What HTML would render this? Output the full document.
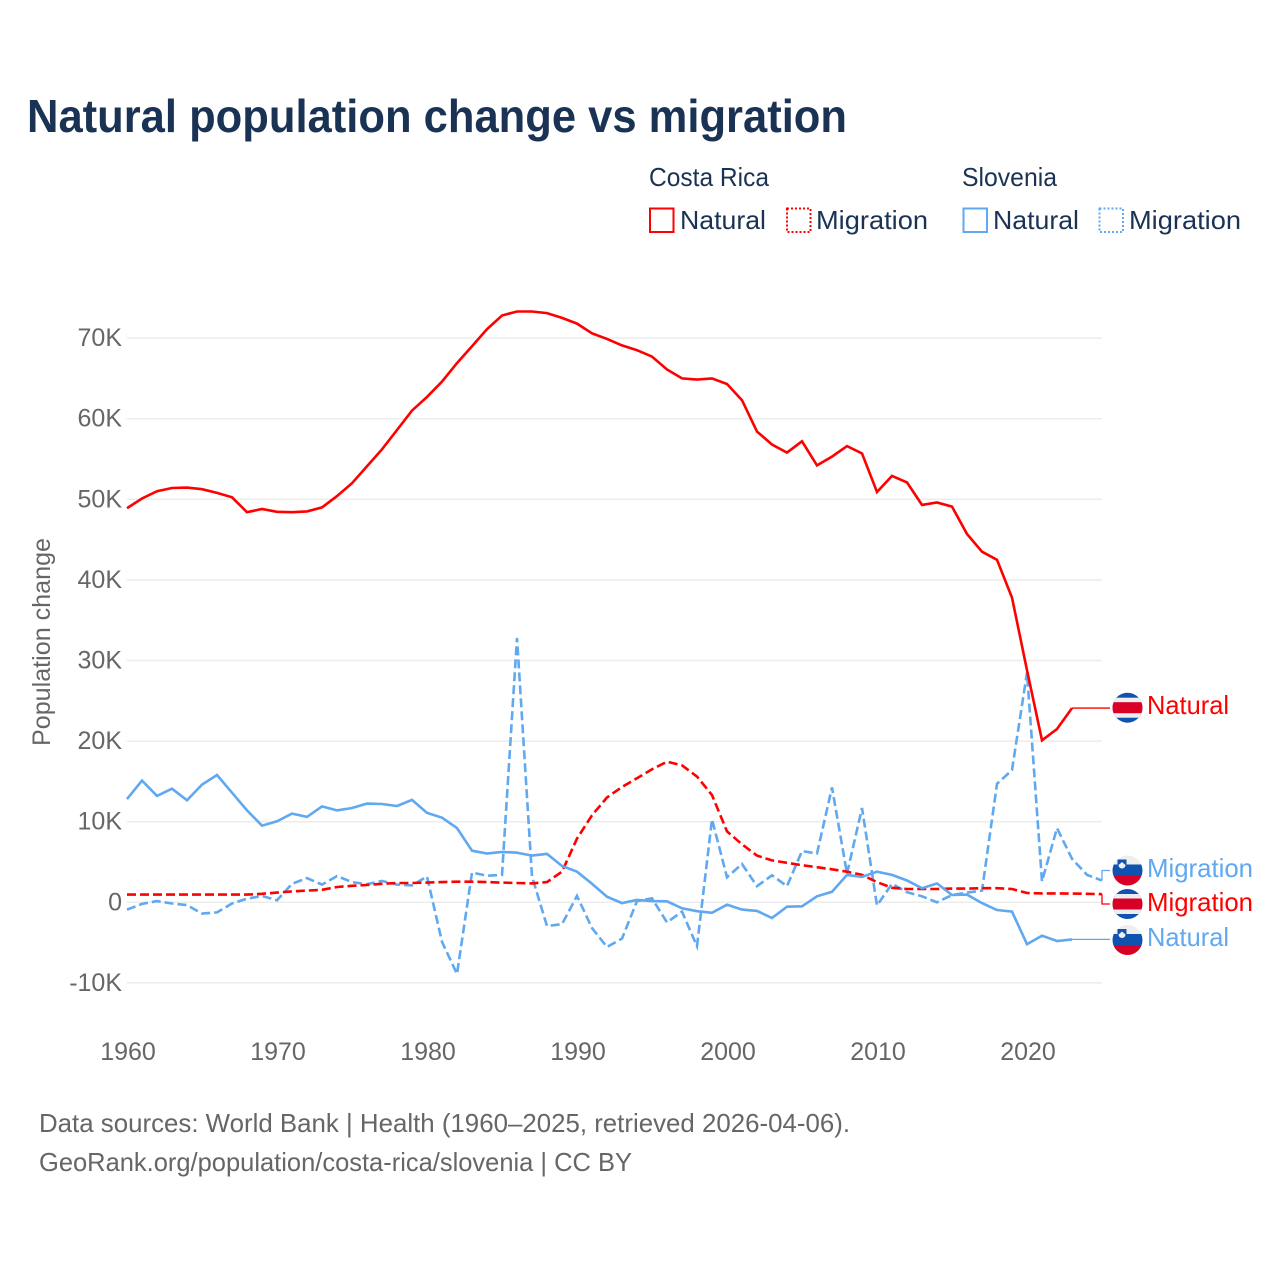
<!DOCTYPE html>
<html lang="en">
<head>
<meta charset="utf-8">
<title>Natural population change vs migration</title>
<style>
html,body{margin:0;padding:0;background:#fff;width:1280px;height:1280px;overflow:hidden}
svg{display:block}
text{font-family:"Liberation Sans",sans-serif}
</style>
</head>
<body>
<svg id="chart" xmlns="http://www.w3.org/2000/svg" width="1280" height="1280" viewBox="0 0 1280 1280">
  <rect width="1280" height="1280" fill="#ffffff"/>
  <text x="27" y="132" font-size="46" font-weight="700" fill="#1a3354" textLength="820" lengthAdjust="spacingAndGlyphs">Natural population change vs migration</text>

  <g font-size="26" fill="#1a3354">
    <text x="649" y="186" textLength="120" lengthAdjust="spacingAndGlyphs">Costa Rica</text>
    <text x="962" y="186" textLength="95" lengthAdjust="spacingAndGlyphs">Slovenia</text>
    <g>
      <rect x="650" y="208.500" width="23.500" height="23.500" fill="none" stroke="#ff0000" stroke-width="2"/>
      <text x="680" y="229" textLength="86" lengthAdjust="spacingAndGlyphs">Natural</text>
    </g>
    <g>
      <rect x="787" y="208.500" width="23.500" height="23.500" fill="none" stroke="#ff0000" stroke-width="2" stroke-dasharray="2 2"/>
      <text x="816" y="229" textLength="112" lengthAdjust="spacingAndGlyphs">Migration</text>
    </g>
    <g>
      <rect x="963.500" y="208.500" width="23.500" height="23.500" fill="none" stroke="#60a8f0" stroke-width="2"/>
      <text x="993" y="229" textLength="86" lengthAdjust="spacingAndGlyphs">Natural</text>
    </g>
    <g>
      <rect x="1099.500" y="208.500" width="23.500" height="23.500" fill="none" stroke="#60a8f0" stroke-width="2" stroke-dasharray="2 2"/>
      <text x="1129" y="229" textLength="112" lengthAdjust="spacingAndGlyphs">Migration</text>
    </g>
  </g>

  <g id="grid"></g>
  <g id="yaxis"></g>
  <g id="xaxis"></g>
  <text transform="translate(50,642) rotate(-90)" text-anchor="middle" font-size="25" fill="#666666" textLength="208" lengthAdjust="spacingAndGlyphs">Population change</text>
  <g id="series"></g>

  <g id="flags"></g>
  <g id="endlabels"></g>

  <g font-size="26" fill="#666666">
    <text x="39" y="1132" textLength="811" lengthAdjust="spacingAndGlyphs">Data sources: World Bank | Health (1960–2025, retrieved 2026-04-06).</text>
    <text x="39" y="1171" textLength="593" lengthAdjust="spacingAndGlyphs">GeoRank.org/population/costa-rica/slovenia | CC BY</text>
  </g>
</svg>
<script>
const startYear = 1960;
const yTickValues = [-10, 0, 10, 20, 30, 40, 50, 60, 70];
const yTickLabels = ["-10K", "0", "10K", "20K", "30K", "40K", "50K", "60K", "70K"];
const xTickValues = [1960, 1970, 1980, 1990, 2000, 2010, 2020];
const xTickLabels = ["1960", "1970", "1980", "1990", "2000", "2010", "2020"];

const costaRicaNatural = [48.9,50.1,51.0,51.4,51.45,51.25,50.8,50.25,48.4,48.8,48.45,48.4,48.5,49.0,50.4,52.0,54.1,56.2,58.6,61.0,62.7,64.6,66.9,69.0,71.1,72.8,73.3,73.3,73.1,72.5,71.8,70.6,69.9,69.1,68.5,67.7,66.1,65.0,64.85,65.0,64.3,62.3,58.4,56.8,55.8,57.2,54.2,55.3,56.6,55.7,50.9,52.9,52.1,49.3,49.6,49.1,45.7,43.5,42.5,37.8,28.8,20.1,21.5,24.1];
const costaRicaMigration = [0.95,0.95,0.95,0.95,0.95,0.95,0.95,0.95,0.95,1.05,1.2,1.35,1.45,1.55,1.9,2.05,2.15,2.3,2.4,2.4,2.45,2.5,2.55,2.55,2.5,2.45,2.4,2.35,2.5,3.8,7.9,10.8,13.0,14.3,15.4,16.5,17.45,17.0,15.6,13.3,8.8,7.2,5.8,5.2,4.9,4.6,4.35,4.1,3.8,3.4,2.5,1.8,1.65,1.65,1.65,1.7,1.7,1.75,1.75,1.65,1.15,1.1,1.1,1.08,1.05,1.0];
const sloveniaNatural = [12.8,15.1,13.2,14.1,12.65,14.6,15.8,13.6,11.4,9.5,10.05,11.0,10.6,11.9,11.4,11.7,12.25,12.2,11.95,12.7,11.1,10.5,9.2,6.4,6.05,6.25,6.15,5.8,6.0,4.5,3.8,2.3,0.7,-0.1,0.3,0.15,0.12,-0.75,-1.1,-1.3,-0.3,-0.9,-1.07,-1.95,-0.55,-0.5,0.75,1.3,3.4,3.15,3.8,3.4,2.7,1.75,2.35,0.9,0.95,-0.1,-0.95,-1.15,-5.2,-4.15,-4.8,-4.6];
const sloveniaMigration = [-0.9,-0.2,0.15,-0.15,-0.35,-1.4,-1.25,-0.15,0.45,0.8,0.25,2.3,3.0,2.2,3.25,2.5,2.25,2.65,2.2,2.1,3.2,-4.9,-8.9,3.7,3.3,3.4,32.8,3.2,-2.95,-2.7,0.8,-3.2,-5.55,-4.5,0.15,0.5,-2.5,-1.15,-5.45,10.3,3.1,4.75,2.0,3.35,2.0,6.35,6.05,14.25,3.55,11.7,-0.4,2.3,1.25,0.75,0,0.9,1.2,1.45,14.7,16.4,28.5,2.6,9.2,5.4,3.4,2.7];

const SVG_NS = "http://www.w3.org/2000/svg";
const RED = "#ff0000";
const BLUE = "#60a8f0";
const xScale = function (year) { return 127 + (year - 1960) * 15; };
const yScale = function (v) { return 902.3 - v * 8.06; };

function make(tag, attrs, parent) {
  const el = document.createElementNS(SVG_NS, tag);
  Object.keys(attrs).forEach(function (k) { el.setAttribute(k, attrs[k]); });
  parent.appendChild(el);
  return el;
}

const gridGroup = document.getElementById("grid");
const yAxisGroup = document.getElementById("yaxis");
yTickValues.forEach(function (v, i) {
  const line = make("line", { x1: 127, x2: 1102, y1: yScale(v), y2: yScale(v), stroke: "#ececec", "stroke-width": 1.5 }, gridGroup);
  
  
  const label = make("text", { x: 122, y: yScale(v) + 8, "text-anchor": "end", "font-size": 25, fill: "#666666" }, yAxisGroup);
  label.textContent = yTickLabels[i];
  
  
});

const xAxisGroup = document.getElementById("xaxis");
xTickValues.forEach(function (year, i) {
  const label = make("text", { x: xScale(year) + 1, y: 1060, "text-anchor": "middle", "font-size": 25, fill: "#666666" }, xAxisGroup);
  label.textContent = xTickLabels[i];
  
  
});

const seriesGroup = document.getElementById("series");
function drawSeries(values, color, dashed, name) {
  const pts = values.map(function (v, i) {
    return xScale(startYear + i).toFixed(1) + "," + yScale(v).toFixed(1);
  }).join(" ");
  const line = make("polyline", { points: pts, fill: "none", stroke: color, "stroke-width": 2.6, "stroke-linejoin": "miter" }, seriesGroup);
  if (dashed) line.setAttribute("stroke-dasharray", "9 4");
  
  
}
function drawConnector(values, color, labelY, name) {
  const last = values.length - 1;
  const x0 = xScale(startYear + last);
  const y0 = yScale(values[last]);
  const midX = Math.max(x0, 1102);
  const pts = x0 + "," + y0 + " " + midX + "," + y0 + " " + midX + "," + labelY + " 1110," + labelY;
  const line = make("polyline", { points: pts, fill: "none", stroke: color, "stroke-width": 1.3 }, seriesGroup);
  
  
}
drawSeries(sloveniaMigration, BLUE, true, "line-slovenia-migration");
drawSeries(costaRicaMigration, RED, true, "line-costa-rica-migration");
drawSeries(sloveniaNatural, BLUE, false, "line-slovenia-natural");
drawSeries(costaRicaNatural, RED, false, "line-costa-rica-natural");
drawConnector(sloveniaMigration, BLUE, 870.5, "connector-slovenia-migration");
drawConnector(costaRicaMigration, RED, 904, "connector-costa-rica-migration");
drawConnector(sloveniaNatural, BLUE, yScale(sloveniaNatural[sloveniaNatural.length - 1]), "connector-slovenia-natural");
drawConnector(costaRicaNatural, RED, yScale(costaRicaNatural[costaRicaNatural.length - 1]), "connector-costa-rica-natural");

const flagsGroup = document.getElementById("flags");
const defs = make("defs", {}, flagsGroup);
function addClip(id, cy) {
  const clip = make("clipPath", { id: id }, defs);
  make("circle", { cx: 1127.500, cy: cy, r: 15 }, clip);
}
function band(parent, top, h, color) {
  make("rect", { x: 1112, y: top, width: 31, height: h, fill: color }, parent);
}
function costaRicaFlag(cy, id, name) {
  addClip(id, cy);
  const g = make("g", { "clip-path": "url(#" + id + ")" }, flagsGroup);
  
  
  band(g, cy - 16, 32, "#0f52b0");
  band(g, cy - 10, 20, "#eeeeee");
  band(g, cy - 5.500, 11, "#d80027");
}
function sloveniaFlag(cy, id, name) {
  addClip(id, cy);
  const g = make("g", { "clip-path": "url(#" + id + ")" }, flagsGroup);
  
  
  band(g, cy - 16, 10, "#eeeeee");
  band(g, cy - 6, 11, "#0f52b0");
  band(g, cy + 5, 11, "#d80027");
  make("path", { d: "M1117.500 " + (cy - 11) + "h9v6a4.500 4.500 0 0 1 -9 0z", fill: "#0f52b0" }, g);
  make("path", { d: "M1118.500 " + (cy - 5.500) + "l3.500 -3l3.500 3a3.500 3.500 0 0 1 -7 0z", fill: "#eeeeee" }, g);
}
costaRicaFlag(707.700, "clipA", "flag-costa-rica-natural");
sloveniaFlag(870.500, "clipB", "flag-slovenia-migration");
costaRicaFlag(904, "clipC", "flag-costa-rica-migration");
sloveniaFlag(940, "clipD", "flag-slovenia-natural");

const endGroup = document.getElementById("endlabels");
function endLabel(text, y, color, width, name) {
  const t = make("text", { x: 1147, y: y, "font-size": 26, fill: color, textLength: width, lengthAdjust: "spacingAndGlyphs" }, endGroup);
  t.textContent = text;
  
  
}
endLabel("Natural", 714, RED, 82, "end-label-costa-rica-natural");
endLabel("Migration", 877, BLUE, 106, "end-label-slovenia-migration");
endLabel("Migration", 911, RED, 106, "end-label-costa-rica-migration");
endLabel("Natural", 946, BLUE, 82, "end-label-slovenia-natural");
</script>
</body>
</html>
